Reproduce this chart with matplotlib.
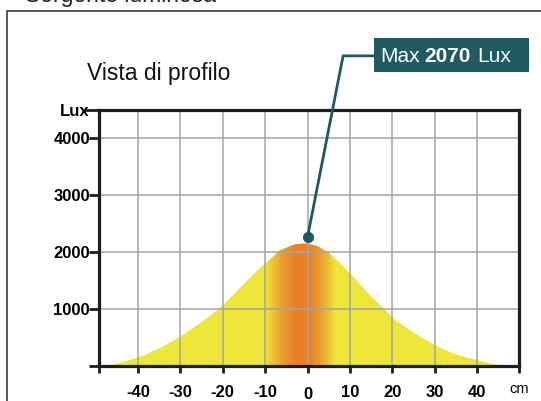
import numpy as np
import matplotlib
matplotlib.use("Agg")
import matplotlib.pyplot as plt
from matplotlib.patches import Rectangle
from matplotlib.transforms import ScaledTranslation

plt.rcParams['font.family'] = ['Liberation Sans', 'DejaVu Sans']

# profilo di illuminamento (cm, lux)
pos_cm = [-48, -45, -42.5, -40, -37.5, -35, -32.5, -30, -27.5, -25, -22.5, -20,
          -17.5, -15, -12.5, -10, -6.5, -3, -1, 0, 2.5, 5, 7.5, 10, 12, 14, 16,
          18, 20, 22.5, 25, 27.5, 30, 32.5, 35, 37.5, 40, 42.5, 45, 47.5]
lux = [0, 40, 95, 150, 225, 310, 410, 520, 640, 770, 910, 1060,
       1250, 1440, 1630, 1800, 2030, 2135, 2150, 2150, 2100, 1990, 1820, 1625, 1470, 1300, 1150,
       1010, 850, 715, 590, 475, 370, 280, 205, 150, 105, 55, 20, 0]
max_lux = 2070
x_ticks = [-40, -30, -20, -10, 0, 10, 20, 30, 40]
y_ticks = [1000, 2000, 3000, 4000]

W, H = 541, 401
fig = plt.figure(figsize=(W / 100, H / 100), dpi=100)

def px(x, y):
    return x / W, 1 - y / H

# cornice esterna
x0, y0 = px(7, 11)
fig.patches.append(Rectangle((x0, -0.1), 1.2, y0 + 0.1, transform=fig.transFigure,
                             fill=False, edgecolor='#4a4a4a', lw=1.3))
fig.text(*px(25, 2), 'Sorgente luminosa', fontsize=16.5, va='baseline', color='#222222')
fig.text(*px(87, 80), 'Vista di profilo', fontsize=16.5, va='baseline', color='#111111')

ax = fig.add_axes([99 / W, 1 - 366 / H, (519 - 99) / W, (366 - 110) / H])
xmin, xmax = -49.2, 49.9
ymin, ymax = 0, 4490
ax.set_xlim(xmin, xmax)
ax.set_ylim(ymin, ymax)

# riempimento sfumato giallo/arancio
cols = np.linspace(xmin, xmax, 600)
stops = [-60, -10, -8, -6, -3, 0.5, 3, 5, 6.5, 60]
yel = np.array([0xEE, 0xE6, 0x3A]) / 255
org = np.array([0xE8, 0x80, 0x2A]) / 255
mix = [0, 0, 0.35, 0.7, 1, 1, 0.7, 0.35, 0, 0]
t = np.interp(cols, stops, mix)
img = (yel[None, :] * (1 - t[:, None]) + org[None, :] * t[:, None])[None, :, :]
im = ax.imshow(img, extent=[xmin, xmax, ymin, ymax], aspect='auto', zorder=1)
poly = ax.fill_between(pos_cm, lux, 0, facecolor='none', edgecolor='none')
im.set_clip_path(poly.get_paths()[0], transform=ax.transData)

ax.set_xticks([xmin] + x_ticks + [xmax])
ax.set_xticklabels([''] + [str(v) for v in x_ticks] + ['cm'])
ax.set_yticks([0] + y_ticks + [ymax])
ax.set_yticklabels([''] + [str(v) for v in y_ticks] + ['Lux'])
ax.grid(True, color='#a0a5a5', lw=1.1, zorder=2)
ax.set_axisbelow(False)
for s in ax.spines.values():
    s.set_linewidth(2.3)
    s.set_color('#1e1e1e')
    s.set_zorder(4)
ax.tick_params(axis='x', length=5, width=2, color='#1e1e1e', labelsize=12, pad=9)
ax.tick_params(axis='y', length=7.5, width=2, color='#1e1e1e', labelsize=12, pad=-1)
ax.yaxis.get_major_ticks()[-1].tick1line.set_markersize(12)
for lbl in ax.get_xticklabels():
    lbl.set_fontweight('bold')
    if lbl.get_text() == '0':
        lbl.set_transform(lbl.get_transform() + ScaledTranslation(0, -1.2 / 72, fig.dpi_scale_trans))
    if lbl.get_text() == 'cm':
        lbl.set_fontsize(10.5)
        lbl.set_fontweight('normal')
        lbl.set_transform(lbl.get_transform() + ScaledTranslation(0, 2.5 / 72, fig.dpi_scale_trans))
for lbl in ax.get_yticklabels():
    lbl.set_fontweight('bold')

# richiamo del valore massimo
teal = '#1f5863'
ax.plot([0, 8.4, 15.7], [2260, 5440, 5440], color=teal, lw=2, clip_on=False, zorder=5)
ax.plot([0], [2260], 'o', color=teal, ms=7, clip_on=False, zorder=6)
bx, by = px(374, 72)
fig.patches.append(Rectangle((bx, by), 155 / W, 34 / H, transform=fig.transFigure,
                             facecolor='#215a63', edgecolor='none'))
fig.text(*px(380, 62), 'Max', color='white', fontsize=15, va='baseline')
fig.text(*px(424, 62), str(max_lux), color='white', fontsize=15, va='baseline',
         fontweight='bold')
fig.text(*px(477, 62), 'Lux', color='white', fontsize=15, va='baseline')

fig.savefig('out.png', dpi=100)
